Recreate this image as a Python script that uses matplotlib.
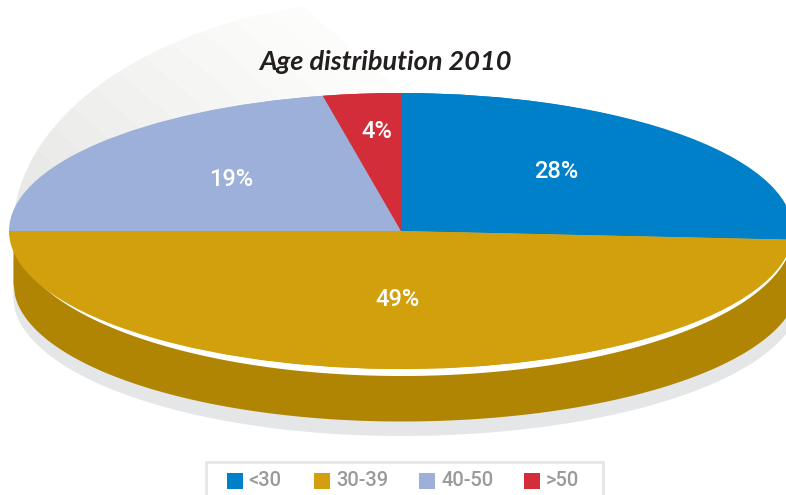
import matplotlib
matplotlib.use("Agg")
import matplotlib.pyplot as plt
import numpy as np
from matplotlib.patches import Ellipse, Polygon, Rectangle

categories = ["<30", "30-39", "40-50", ">50"]
labels = ["28%", "49%", "19%", "4%"]
# sweep of each slice as actually drawn in the picture (the artwork is not strictly proportional)
drawn_shares = [26.0, 49.0, 21.8, 3.2]
colors = ["#0080C8", "#D2A00C", "#9DB0D9", "#D32D39"]
label_px = [(556, 171), (398, 300), (231, 179), (377, 131)]

W, H = 786, 495
fig = plt.figure(figsize=(W / 100, H / 100), dpi=100)
bg = fig.add_axes([0, 0, 1, 1])
bg.set_xlim(0, W)
bg.set_ylim(H, 0)
bg.axis("off")

cx, cy, rl, rr, ry_top, ry_bot = 401, 231, 388, 392, 138, 140


def half_arc(r_right):
    """x positions of the lower rim, left radius rl and right radius r_right."""
    u = np.linspace(-1, 1, 500)
    x = cx + np.where(u < 0, u * rl, u * r_right)
    return x, np.sqrt(1 - u ** 2)


# shadow
x, s = half_arc(400)
bg.fill_between(x, cy + 30, cy + 65 + 140 * s, color="#E5E6E8", lw=0, zorder=1)
# wall
x, s = half_arc(397)
bg.fill_between(x, cy, cy + 52 + 138 * s, color="#B08503", lw=0, zorder=2)
# white rim
x, s = half_arc(rr)
bg.fill_between(x, cy, cy + 144.5 * s, color="white", lw=0, zorder=3)

# fading back fan: diagonal bands clipped to an upper-left quarter ellipse
th = np.linspace(np.pi, np.pi / 2, 200)
quarter = np.column_stack([cx + rl * np.cos(th), cy - 232 * np.sin(th)])
quarter = np.vstack([quarter, [cx, cy]])
clip = Polygon(quarter, closed=True, transform=bg.transData, fc="none", ec="none")
bg.add_patch(clip)
n = 14
step = 43
slope = 0.87
for i in range(n):
    f = i / (n - 1)
    g = 0.893 + (0.99 - 0.893) * f
    c0 = 295.5 - step * (n - 1 - i) - step
    c1 = c0 + step
    ya, yb = -20, 260
    p = Polygon([(c0 + ya / slope, ya), (c1 + ya / slope, ya), (c1 + yb / slope, yb), (c0 + yb / slope, yb)],
                closed=True, fc=(g, g, g - 0.004), ec="none", zorder=1.5)
    bg.add_patch(p)
    p.set_clip_path(clip)

# pie top: the same pie in two axes, as the artwork's right half is slightly wider than its left
boxes = [(cx - rl, rl, (-1, 0)), (cx, rr, (0, 1))]
for left, width, xlim in boxes:
    ax = fig.add_axes([left / W, 1 - (cy + ry_bot) / H, width / W, (ry_top + ry_bot) / H], zorder=3)
    ax.patch.set_alpha(0)
    ax.pie(drawn_shares, colors=colors, startangle=90, counterclock=False,
           radius=1, center=(0, 0), wedgeprops=dict(lw=0))
    ax.set_aspect("auto")
    ax.set_xlim(*xlim)
    ax.set_ylim(-ry_bot / ry_top, 1)

top = fig.add_axes([0, 0, 1, 1], zorder=5)
top.set_xlim(0, W)
top.set_ylim(H, 0)
top.axis("off")
for (x0, y0), s0 in zip(label_px, labels):
    top.text(x0, y0, s0, color="white", fontsize=17, fontweight="medium", family="Roboto", ha="center", va="center")
top.text(385, 62, "Age distribution 2010", color="#231F20", fontsize=19.5, style="italic",
         fontweight="bold", family="Lato", ha="center", va="center")

# legend
top.add_patch(Rectangle((205.5, 461.5), 397, 40, fc="white", ec="#E6E6E6", lw=2))
swatch_x = [227, 314, 419, 524]
text_x = [248, 336, 441, 546]
for sx, tx, c, s0 in zip(swatch_x, text_x, colors, categories):
    top.add_patch(Rectangle((sx, 473), 16, 16, fc=c, ec="none"))
    top.text(tx, 481, s0, color="#9A9A9C", fontsize=14.5, fontweight="medium", family="Roboto", va="center", ha="left")

fig.savefig("out.png", dpi=100)
